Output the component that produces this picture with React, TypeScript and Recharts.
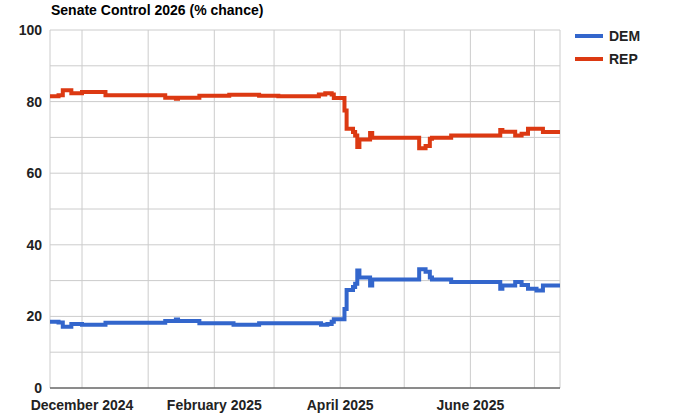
import React from 'react';
import { LineChart, Line, XAxis, YAxis, CartesianGrid } from 'recharts';

const dates = [
  '2024-11-16', '2024-11-20', '2024-11-22', '2024-11-26', '2024-12-01', '2024-12-12',
  '2025-01-09', '2025-01-14', '2025-01-15', '2025-01-25', '2025-02-08', '2025-02-10',
  '2025-02-22', '2025-03-03', '2025-03-22', '2025-03-23', '2025-03-25', '2025-03-26',
  '2025-03-28', '2025-03-29', '2025-04-03', '2025-04-04', '2025-04-07', '2025-04-08',
  '2025-04-09', '2025-04-10', '2025-04-15', '2025-04-16', '2025-05-08', '2025-05-11',
  '2025-05-13', '2025-05-14', '2025-05-23', '2025-06-15', '2025-06-16', '2025-06-22',
  '2025-06-25', '2025-06-28', '2025-07-02', '2025-07-05', '2025-07-13',
];

const demValues = [
  18.5, 18.3, 17.1, 17.9, 17.7, 18.2,
  18.7, 19.1, 18.7, 18.1, 18.1, 17.7,
  18.1, 18.1, 18.1, 17.7, 17.7, 17.9,
  18.5, 19.2, 22.1, 27.4, 28.2, 29.1,
  32.8, 30.9, 28.6, 30.3, 33.2, 32.5,
  30.9, 30.3, 29.6, 27.7, 28.6, 29.6,
  28.8, 27.7, 27.2, 28.6, 28.6,
];

const repValues = [
  81.5, 81.8, 83.2, 82.3, 82.7, 81.8,
  81.1, 80.8, 81.1, 81.6, 81.9, 81.9,
  81.6, 81.5, 82.0, 82.0, 82.3, 82.3,
  82.0, 81.0, 77.5, 72.4, 71.5, 70.5,
  67.3, 69.4, 71.2, 69.9, 67.0, 67.6,
  69.6, 69.9, 70.5, 72.1, 71.6, 70.5,
  71.0, 72.4, 72.4, 71.5, 71.5,
];

const monthTicks = [
  '2024-12-01', '2025-01-01', '2025-02-01', '2025-03-01',
  '2025-04-01', '2025-05-01', '2025-06-01', '2025-07-01',
];
const monthLabels = ['December 2024', '', 'February 2025', '', 'April 2025', '', 'June 2025', ''];

const yTicks = [0, 10, 20, 30, 40, 50, 60, 70, 80, 90, 100];
const yLabelStep = 20;

const seriesNames = ['DEM', 'REP'];
const seriesColors = ['#3366cc', '#dc3912'];
const titleText = 'Senate Control 2026 (% chance)';

const toTs = (s: string) => {
  const [y, m, d] = s.split('-').map(Number);
  return Date.UTC(y, m - 1, d);
};

const data = dates.map((d, i) => ({ t: toTs(d), DEM: demValues[i], REP: repValues[i] }));
const tickTs = monthTicks.map(toTs);
const FONT = 'Arial, "Liberation Sans", sans-serif';

export default function App() {
  return (
    <div style={{ position: 'absolute', left: 0, top: 0, width: 693, height: 420, background: '#fff' }}>
      <LineChart width={693} height={420} data={data} margin={{ top: 30, right: 133, bottom: 0, left: 0 }}>
        <CartesianGrid stroke="#cccccc" strokeWidth={1} />
        <XAxis
          dataKey="t"
          type="number"
          domain={[data[0].t, data[data.length - 1].t]}
          ticks={tickTs}
          tickFormatter={(v: number) => monthLabels[tickTs.indexOf(v)] ?? ''}
          tickLine={false}
          axisLine={{ stroke: '#333333', strokeWidth: 1 }}
          height={32}
          tickMargin={6}
          interval={0}
          tick={{ fill: '#222', fontSize: 14, fontWeight: 'bold', fontFamily: FONT }}
        />
        <YAxis
          type="number"
          domain={[0, 100]}
          ticks={yTicks}
          interval={0}
          tickFormatter={(v: number) => (v % yLabelStep === 0 ? String(v) : '')}
          tickLine={false}
          axisLine={false}
          width={50}
          tick={{ fill: '#222', fontSize: 14, fontWeight: 'bold', fontFamily: FONT }}
        />
        <Line
          dataKey="REP"
          type="stepAfter"
          stroke={seriesColors[1]}
          strokeWidth={4}
          dot={false}
          activeDot={false}
          isAnimationActive={false}
        />
        <Line
          dataKey="DEM"
          type="stepAfter"
          stroke={seriesColors[0]}
          strokeWidth={4}
          dot={false}
          activeDot={false}
          isAnimationActive={false}
        />
      </LineChart>
      <div
        style={{
          position: 'absolute',
          left: 51,
          top: 2,
          fontFamily: FONT,
          fontSize: 14,
          fontWeight: 'bold',
          color: '#000',
          lineHeight: '16px',
          whiteSpace: 'nowrap',
        }}
      >
        {titleText}
      </div>
      <div style={{ position: 'absolute', left: 575, top: 26, width: 110, height: 60, fontFamily: FONT }}>
        {seriesNames.map((name, i) => (
          <div
            key={name}
            style={{ position: 'absolute', left: 0, top: i * 23, height: 20, display: 'flex', alignItems: 'center' }}
          >
            <span style={{ display: 'inline-block', width: 28, height: 4, background: seriesColors[i], marginRight: 6 }} />
            <span style={{ fontSize: 14, fontWeight: 'bold', color: '#222' }}>{name}</span>
          </div>
        ))}
      </div>
    </div>
  );
}
